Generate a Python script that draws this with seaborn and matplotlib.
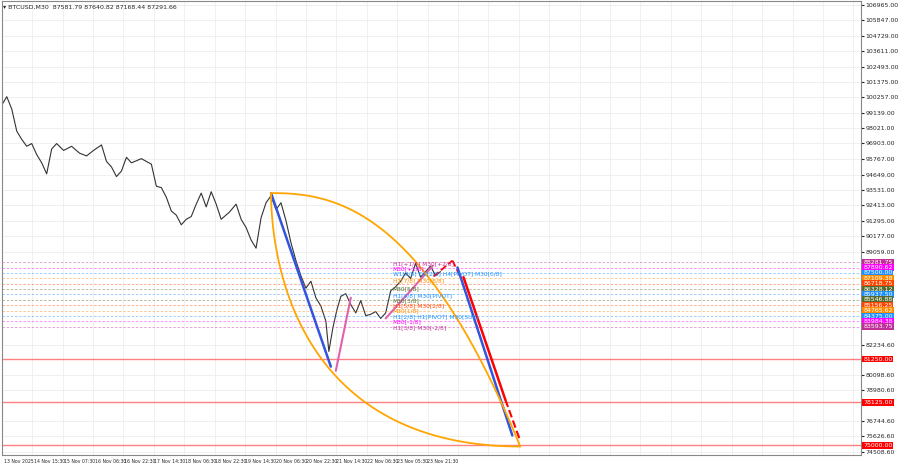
import numpy as np
import pandas as pd
import matplotlib
matplotlib.use("Agg")
import matplotlib.pyplot as plt
import seaborn as sns

# bar positions and prices
bar_x = [0, 5, 10, 15, 20, 25, 30, 35, 40, 45, 50, 55, 62, 70, 78, 85, 92, 100, 105, 110, 115, 120,
         125, 130, 140, 150, 155, 160, 165, 170, 175, 180, 185, 190, 195, 200, 205, 210, 215, 220,
         228, 235, 240, 245, 250, 255, 260, 265, 270, 275, 280, 285, 290, 295, 300, 305, 310, 315,
         320, 325, 328, 332, 336, 340, 345, 350, 355, 360, 365, 370, 375, 380, 385, 390, 395, 400,
         405, 410, 415, 420, 425, 430, 435, 440]
close = [99700, 100300, 99400, 97800, 97200, 96700, 96900, 96100, 95500, 94700, 96500, 96900, 96400,
         96700, 96200, 96000, 96400, 96800, 95600, 95200, 94500, 94900, 95900, 95500, 95800, 95400,
         93800, 93700, 93000, 92000, 91700, 91000, 91400, 91600, 92500, 93300, 92300, 93400, 92500,
         91400, 91900, 92500, 91400, 90800, 89900, 89300, 91500, 92600, 93100, 92100, 92600, 91300,
         89700, 88400, 87300, 86400, 86900, 85700, 85100, 84000, 81800, 83500, 84800, 85800, 86000,
         85200, 84600, 85500, 84400, 84500, 84700, 84200, 84600, 86200, 86500, 86900, 87500, 87100,
         88200, 87200, 87600, 88000, 87300, 87600]

date_labels = ["13 Nov 2025", "14 Nov 15:30", "15 Nov 07:30", "16 Nov 06:30", "16 Nov 22:30",
               "17 Nov 14:30", "18 Nov 06:30", "18 Nov 22:30", "19 Nov 14:30", "20 Nov 06:30",
               "20 Nov 22:30", "21 Nov 14:30", "22 Nov 06:30", "23 Nov 05:30", "23 Nov 21:30"]
date_pos = [2, 32, 62, 93, 123, 153, 184, 214, 244, 275, 305, 335, 366, 396, 426]

price_ticks = [106965, 105847, 104729, 103611, 102493, 101375, 100257, 99139, 98021, 96903, 95767,
               94649, 93531, 92413, 91295, 90177, 89059, 82234.6, 80098.6, 78980.6, 76744.6,
               75626.6, 74508.6]

level_prices = [88281.75, 87890.62, 87500.00, 87109.38, 86718.75, 86328.12, 85937.50,
                85546.88, 85156.25, 84765.62, 84375.00, 83984.38, 83593.75]
level_colors = ["#c0309a", "#ff00ff", "#1e90ff", "#ff8c00", "#ff4500", "#556b2f", "#1e90ff",
                "#556b2f", "#ff4500", "#ff8c00", "#1e90ff", "#ff00ff", "#c0309a"]
target_prices = [81250.00, 78125.00, 75000.00]

zone_text = ["H1[+1/8] M30[+2/8]", "M30[+1/8]", "W1[3/8] D1[2/8] H4[PIVOT] M30[0/8]",
             "H1[7/8] M30[8/8]", "M30[5/8]", "H1[4/8] M30[PIVOT]", "M30[3/8]",
             "H1[5/8] M30[2/8]", "M30[1/8]", "H1[2/8] H1[PIVOT] M30[SUP]", "M30[-1/8]",
             "H1[3/8] M30[-2/8]"]
zone_price = [88200, 87800, 87420, 86930, 86380, 85860, 85480, 85100, 84730, 84330, 83930, 83530]
zone_colors = ["#c0309a", "#ff00ff", "#1e90ff", "#ff8c00", "#556b2f", "#1e90ff", "#556b2f",
               "#ff4500", "#ff8c00", "#1e90ff", "#ff00ff", "#c0309a"]

sns.set_style("white")
plt.rcParams['font.family'] = ['DejaVu Sans']

fig = plt.figure(figsize=(9, 4.68), dpi=100)
ax = fig.add_axes([0.002, 0.028, 0.955, 0.97])

ax.set_xlim(0, 862)
ax.set_ylim(74290, 107255)
for p in np.arange(0, 862, 30.5):
    ax.axvline(p, color="#eeeeee", lw=0.6, zorder=0)
for t in price_ticks:
    ax.axhline(t, color="#eeeeee", lw=0.6, zorder=0)

df = pd.DataFrame({"x": bar_x, "price": close})
sns.lineplot(data=df, x="x", y="price", ax=ax, color="#333333", lw=0.8)

for p, c in zip(level_prices, level_colors):
    ax.axhline(p, color=c, lw=0.6, ls=(0, (3, 2)), alpha=0.5)
    ax.text(864, p, f"{p:.2f}", fontsize=4.5, color="white", va="center", ha="left",
            bbox=dict(boxstyle="square,pad=0.15", fc=c, ec="none"), clip_on=False)
for p in target_prices:
    ax.axhline(p, color="#ff8080", lw=1.0)
    ax.text(864, p, f"{p:.2f}", fontsize=4.5, color="white", va="center", ha="left",
            bbox=dict(boxstyle="square,pad=0.15", fc="red", ec="none"), clip_on=False)

for t, p, c in zip(zone_text, zone_price, zone_colors):
    ax.text(392, p, t, fontsize=4.2, color=c, va="center")

# pattern lines
ax.plot([270, 330], [93300, 80700], color="#3355dd", lw=1.8)
ax.plot([335, 350], [80400, 85700], color="#e060b0", lw=1.5)
ax.plot([385, 432], [84200, 88000], color="#e060b0", lw=1.5)
ax.plot([433, 452], [87250, 88400], color="red", lw=1.3, ls="--")
ax.plot([452, 460], [88400, 87200], color="red", lw=1.3, ls="--")
ax.plot([457, 512], [87900, 75700], color="#3355dd", lw=1.8)
ax.plot([463, 505], [87200, 78300], color="red", lw=1.8)
ax.plot([505, 520], [78300, 75300], color="red", lw=1.5, ls="--")

# orange curves
t = np.linspace(0, 1, 60)
ax.plot(270 + 250 * t ** 1.8, 93300 - 18400 * (1 - (1 - t) ** 2.0), color="orange", lw=1.3)
ax.plot(270 + 250 * t, 93300 - 18400 * t ** 2.4, color="orange", lw=1.3)

ax.set_xticks(date_pos)
ax.set_xticklabels(date_labels, fontsize=3.3, ha="left")
ax.yaxis.tick_right()
ax.set_yticks(price_ticks)
ax.set_yticklabels([f"{v:.2f}" for v in price_ticks], fontsize=4.5)
ax.tick_params(length=2, pad=1)
ax.set_xlabel("")
ax.set_ylabel("")
for s in ax.spines.values():
    s.set_color("#888888")

fig.text(0.003, 0.99, "\u25be BTCUSD,M30  87581.79 87640.82 87168.44 87291.66", fontsize=4.5, va="top")

fig.savefig("out.png", dpi=100)
